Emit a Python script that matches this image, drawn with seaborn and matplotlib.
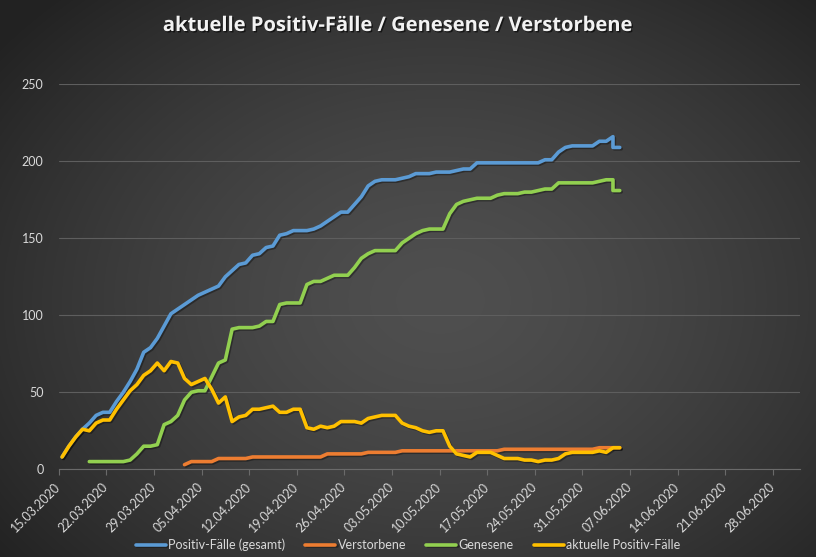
import numpy as np
import pandas as pd
import matplotlib
matplotlib.use("Agg")
import matplotlib.pyplot as plt
import matplotlib.patheffects as pe
import seaborn as sns

nan = np.nan

# Tage seit dem 15.03.2020; der 04.06. kommt zweimal vor (Korrektur der Zahlen)
day_offset = list(range(82)) + [81, 82]

positiv_gesamt = [8, 15, 21, 26, 30, 35, 37, 37, 44, 50,
                  57, 65, 76, 79, 85, 93, 101, 104, 107, 110,
                  113, 115, 117, 119, 125, 129, 133, 134, 139, 140,
                  144, 145, 152, 153, 155, 155, 155, 156, 158, 161,
                  164, 167, 167, 172, 177, 184, 187, 188, 188, 188,
                  189, 190, 192, 192, 192, 193, 193, 193, 194, 195,
                  195, 199, 199, 199, 199, 199, 199, 199, 199, 199,
                  199, 201, 201, 206, 209, 210, 210, 210, 210, 213,
                  213, 216, 209, 209]

verstorbene = [nan] * 18 + [3, 5,
               5, 5, 5, 7, 7, 7, 7, 7, 8, 8,
               8, 8, 8, 8, 8, 8, 8, 8, 8, 10,
               10, 10, 10, 10, 10, 11, 11, 11, 11, 11,
               12, 12, 12, 12, 12, 12, 12, 12, 12, 12,
               12, 12, 12, 12, 12, 13, 13, 13, 13, 13,
               13, 13, 13, 13, 13, 13, 13, 13, 13, 14,
               14, 14, 14, 14]

genesene = [nan, nan, nan, nan, 5, 5, 5, 5, 5, 5,
            6, 10, 15, 15, 16, 29, 31, 35, 45, 50,
            51, 51, 60, 69, 71, 91, 92, 92, 92, 93,
            96, 96, 107, 108, 108, 108, 120, 122, 122, 124,
            126, 126, 126, 131, 137, 140, 142, 142, 142, 142,
            147, 150, 153, 155, 156, 156, 156, 166, 172, 174,
            175, 176, 176, 176, 178, 179, 179, 179, 180, 180,
            181, 182, 182, 186, 186, 186, 186, 186, 186, 187,
            188, 188, 181, 181]

aktuell_positiv = [8, 15, 21, 26, 25, 30, 32, 32, 39, 45,
                   51, 55, 61, 64, 69, 64, 70, 69, 59, 55,
                   57, 59, 52, 43, 47, 31, 34, 35, 39, 39,
                   40, 41, 37, 37, 39, 39, 27, 26, 28, 27,
                   28, 31, 31, 31, 30, 33, 34, 35, 35, 35,
                   30, 28, 27, 25, 24, 25, 25, 15, 10, 9,
                   8, 11, 11, 11, 9, 7, 7, 7, 6, 6,
                   5, 6, 6, 7, 10, 11, 11, 11, 11, 12,
                   11, 14, 14, 14]

series_names = ["Positiv-Fälle (gesamt)", "Verstorbene", "Genesene", "aktuelle Positiv-Fälle"]
series_values = [positiv_gesamt, verstorbene, genesene, aktuell_positiv]
series_colors = ["#5B9BD5", "#ED7D31", "#92D050", "#FFC000"]

tick_dates = pd.date_range("2020-03-15", "2020-06-28", freq="7D")

# Excel setzt die Punkte in die Mitte des Tages
dates = pd.Timestamp("2020-03-15") + pd.to_timedelta(day_offset, unit="D") + pd.Timedelta(hours=12)

frames = []
for name, vals in zip(series_names, series_values):
    frames.append(pd.DataFrame({"Datum": dates, "Anzahl": vals, "Reihe": name}))
df = pd.concat(frames, ignore_index=True)

sns.set_style("dark")
plt.rcParams["font.family"] = ["Lato", "DejaVu Sans"]

fig = plt.figure(figsize=(8.16, 5.57), dpi=100)

# radialer Hintergrund
bg = fig.add_axes([0, 0, 1, 1], zorder=-10)
yy, xx = np.mgrid[0:557, 0:816]
r = np.sqrt(((xx - 440) / 560.0) ** 2 + ((yy - 300) / 420.0) ** 2)
r = np.clip(r, 0, 1)
center, edge = 0x4f, 0x22
g = (center + (edge - center) * r ** 1.5) / 255.0
bg.imshow(np.dstack([g, g, g]), aspect="auto", extent=[0, 1, 0, 1])
bg.set_axis_off()

ax = fig.add_axes([58.7 / 816, 1 - 469.3 / 557, (800 - 58.7) / 816, (469.3 - 84.3) / 557])
ax.set_facecolor("none")

sns.lineplot(data=df, x="Datum", y="Anzahl", hue="Reihe", hue_order=series_names,
             palette=dict(zip(series_names, series_colors)), estimator=None, sort=False,
             linewidth=2.6, ax=ax)
for line in ax.get_lines():
    line.set_solid_capstyle("round")
    line.set_solid_joinstyle("round")
    line.set_path_effects([pe.SimpleLineShadow(offset=(1, -1), alpha=0.35), pe.Normal()])

ax.set_ylim(0, 250)
ax.set_xlim(pd.Timestamp("2020-03-15"), pd.Timestamp("2020-07-02"))
ax.set_yticks([0, 50, 100, 150, 200, 250])
ax.set_xticks(tick_dates)
ax.set_xticklabels([d.strftime("%d.%m.%Y") for d in tick_dates], rotation=45,
                   ha="right", va="center", rotation_mode="anchor")
ax.grid(axis="y", color="#5e5e5e", linewidth=0.8)
ax.grid(axis="x", visible=False)
for side in ["top", "right", "left"]:
    ax.spines[side].set_visible(False)
ax.spines["bottom"].set_color("#6a6a6a")
ax.spines["bottom"].set_linewidth(0.8)
ax.tick_params(axis="x", colors="#d9d9d9", labelsize=9, length=4, color="#6a6a6a", pad=7, bottom=True)
ax.tick_params(axis="y", colors="#d9d9d9", labelsize=9, length=0, pad=11)
ax.set_xlabel("")
ax.set_ylabel("")

handles, labels = ax.get_legend_handles_labels()
ax.legend(handles, labels, loc="center", bbox_to_anchor=(408 / 816, 1 - 545 / 557),
          bbox_transform=fig.transFigure, ncol=4, frameon=False, fontsize=9,
          labelcolor="#d9d9d9", handlelength=2.4, handletextpad=0.2, columnspacing=1.6)

fig.text(398 / 816, 1 - 26 / 557, "aktuelle Positiv-Fälle / Genesene / Verstorbene",
         ha="center", va="center", color="#f2f2f2", fontsize=14.5, fontweight="bold",
         family=["Open Sans", "DejaVu Sans"],
         path_effects=[pe.withSimplePatchShadow(offset=(1, -1), shadow_rgbFace="black", alpha=0.6)])

fig.savefig("out.png", dpi=100)
